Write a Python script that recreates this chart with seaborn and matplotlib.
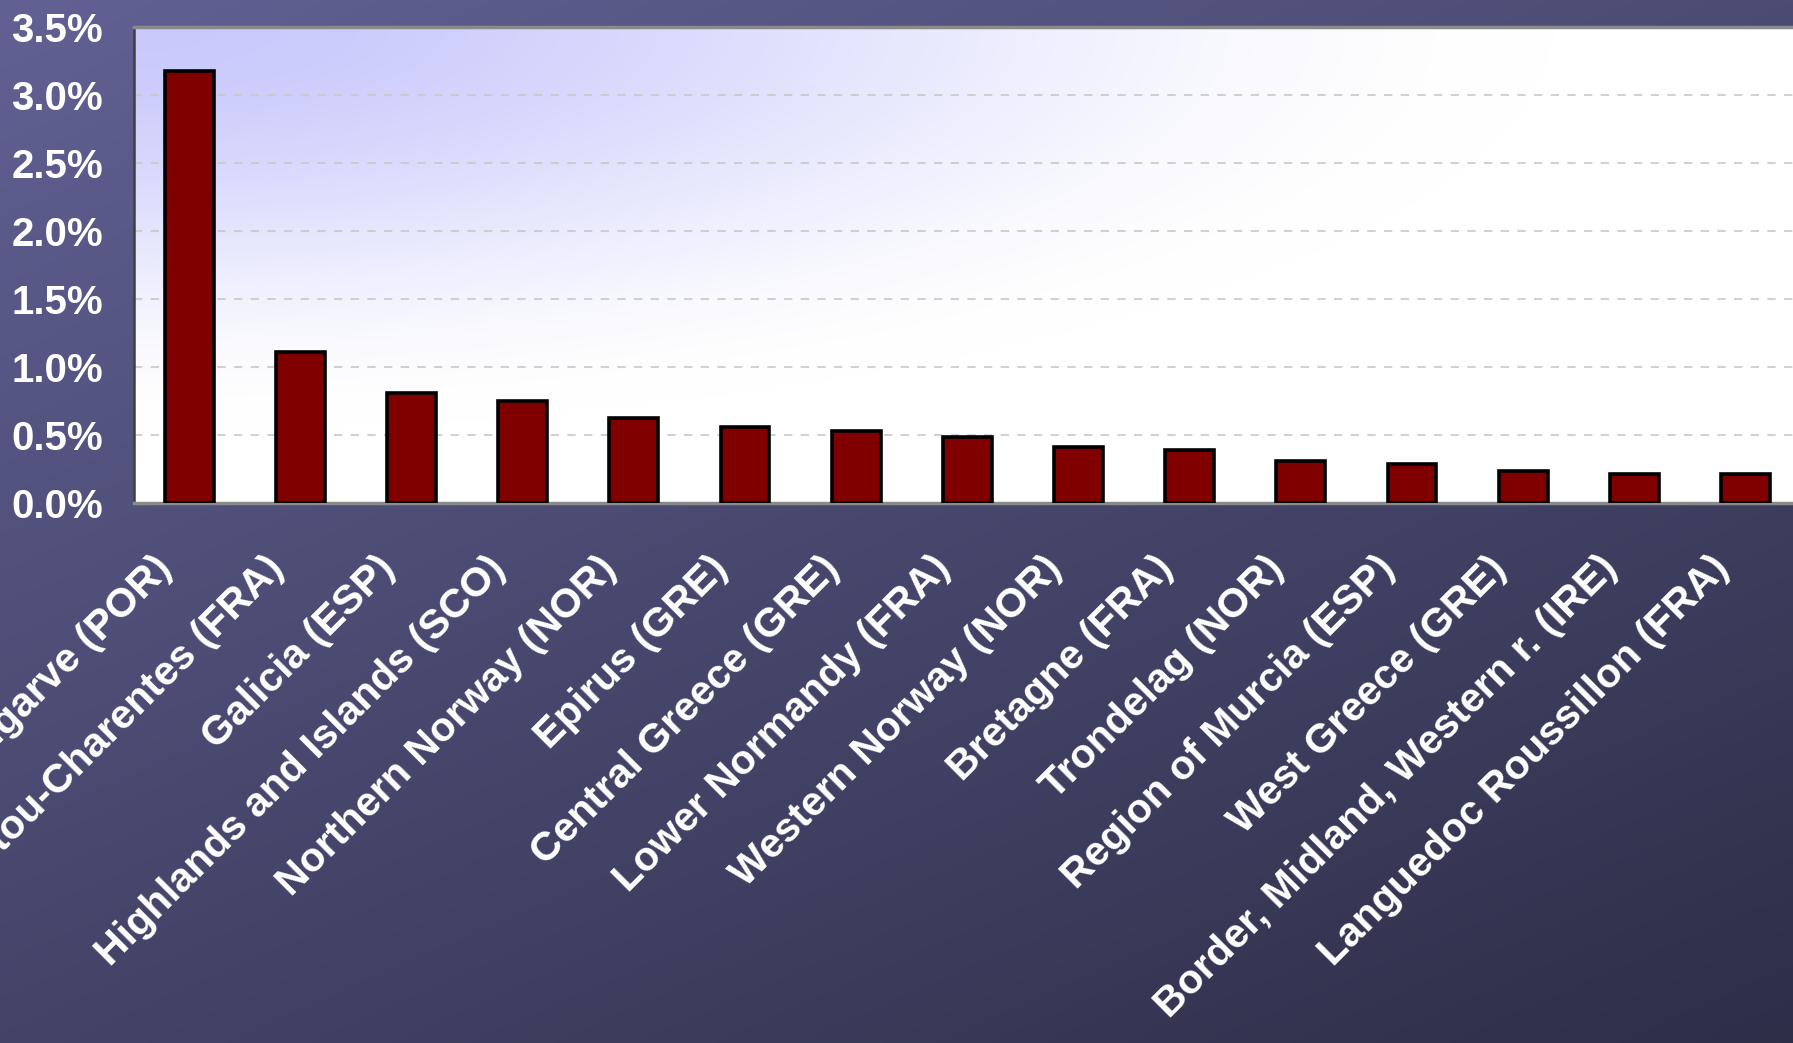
import numpy as np
import matplotlib
matplotlib.use('Agg')
import matplotlib.pyplot as plt
import matplotlib.transforms as mtransforms
from matplotlib.ticker import PercentFormatter
import seaborn as sns

# share of employment per region (%)
regions = ['Algarve (POR)', 'Poitou-Charentes (FRA)', 'Galicia (ESP)',
           'Highlands and Islands (SCO)', 'Northern Norway (NOR)', 'Epirus (GRE)',
           'Central Greece (GRE)', 'Lower Normandy (FRA)', 'Western Norway (NOR)',
           'Bretagne (FRA)', 'Trondelag (NOR)', 'Region of Murcia (ESP)',
           'West Greece (GRE)', 'Border, Midland, Western r. (IRE)',
           'Languedoc Roussillon (FRA)']
shares = [3.18, 1.11, 0.81, 0.745, 0.625, 0.555, 0.53, 0.48, 0.41, 0.385,
          0.31, 0.285, 0.235, 0.21, 0.21]
y_ticks = [0.0, 0.5, 1.0, 1.5, 2.0, 2.5, 3.0, 3.5]

sns.set_theme(style='white')
plt.rcParams['font.family'] = ['Liberation Sans', 'DejaVu Sans']
plt.rcParams['font.weight'] = 'bold'

fig = plt.figure(figsize=(17.93, 10.43), dpi=100)

# slide background: dark slate gradient
bg = fig.add_axes([0, 0, 1, 1], zorder=-10)
gx, gy = np.meshgrid(np.linspace(0, 1, 300), np.linspace(0, 1, 200))
t = np.clip((gx * 0.6 + gy * 0.8) / 1.4, 0, 1)
top = np.array([0.38, 0.38, 0.58])
bot = np.array([0.18, 0.18, 0.28])
img = top[None, None, :] * (1 - t[..., None]) + bot[None, None, :] * t[..., None]
bg.imshow(img, aspect='auto', extent=[0, 1, 0, 1], origin='upper')
bg.set_axis_off()

ax = fig.add_axes([0.0745, 0.518, 0.930, 0.456])

# plot area: lavender in the top-left fading smoothly to white
px, py = np.meshgrid(np.linspace(0, 1, 300), np.linspace(0, 1, 200))
r = np.sqrt((px / 0.85) ** 2 + (py / 0.85) ** 2)
d = np.clip(1 - r, 0, 1)
d = d * d * (3 - 2 * d)
lav = np.array([0.79, 0.79, 0.99])
white = np.array([1.0, 1.0, 1.0])
pimg = white[None, None, :] * (1 - d[..., None]) + lav[None, None, :] * d[..., None]

sns.barplot(x=regions, y=shares, color='#800000', edgecolor='black',
            linewidth=2.6, width=0.44, saturation=1, ax=ax, zorder=3)
ax.imshow(pimg, aspect='auto', extent=[-0.5, len(regions) - 0.5, 0, 3.5],
          origin='upper', zorder=0)

ax.set_xlim(-0.5, len(regions) - 0.5)
ax.set_ylim(0, 3.5)
ax.set_yticks(y_ticks)
ax.yaxis.set_major_formatter(PercentFormatter(xmax=100, decimals=1))
for y in y_ticks[1:-1]:
    ax.axhline(y, color='#c8c8c8', linestyle=(0, (5, 5)), linewidth=1.2, zorder=1)

ax.tick_params(axis='y', length=0, pad=22, labelsize=29, labelcolor='white')
ax.tick_params(axis='x', length=0, pad=48, labelsize=29.5, labelcolor='white')
ax.set_xticks(range(len(regions)))
ax.set_xticklabels(regions, rotation=45, ha='right', va='center',
                   rotation_mode='anchor', fontweight='bold')
shift = mtransforms.ScaledTranslation(-0.23, 0.07, fig.dpi_scale_trans)
for lab in ax.get_xticklabels():
    lab.set_transform(lab.get_transform() + shift)
for lab in ax.get_yticklabels():
    lab.set_fontweight('bold')

for side in ['top', 'bottom']:
    ax.spines[side].set_color('#8a8a8a')
    ax.spines[side].set_linewidth(2.5)
ax.spines['left'].set_color('#404040')
ax.spines['left'].set_linewidth(1.8)
ax.spines['right'].set_visible(False)
ax.set_xlabel('')
ax.set_ylabel('')

fig.savefig('out.png', dpi=100)
plt.close(fig)
